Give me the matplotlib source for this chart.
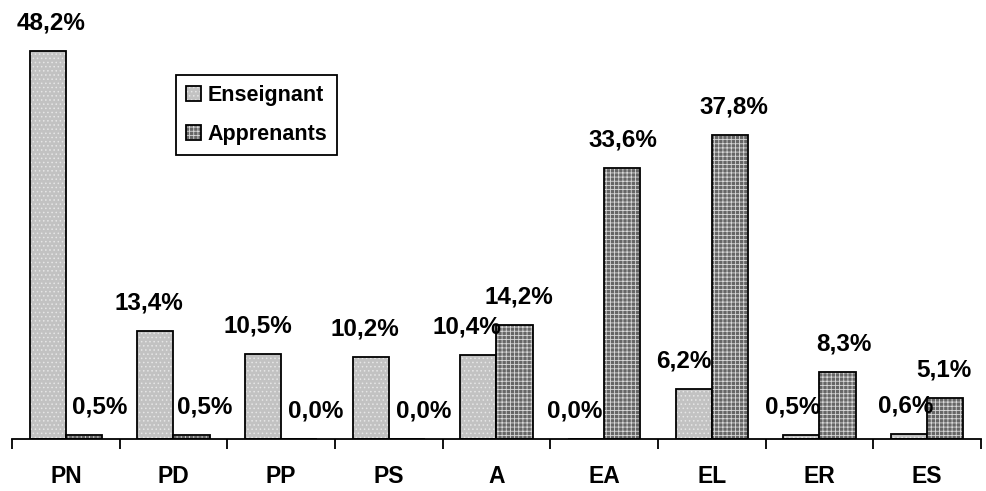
import matplotlib.pyplot as plt
import numpy as np

plt.rcParams["font.family"] = ["Liberation Sans", "DejaVu Sans"]
plt.rcParams["hatch.linewidth"] = 0.6

categories = ["PN", "PD", "PP", "PS", "A", "EA", "EL", "ER", "ES"]
enseignant = [48.2, 13.4, 10.5, 10.2, 10.4, 0.0, 6.2, 0.5, 0.6]
apprenants = [0.5, 0.5, 0.0, 0.0, 14.2, 33.6, 37.8, 8.3, 5.1]

# horizontal nudges (pixels) for the value labels
ens_dx = [3, -7, -5, -6, -12, -11, -10, -9, -3]
app_dx = [16, 13, 16, 17, 4, 1, 4, 6, -1]

fig = plt.figure(figsize=(9.86, 4.91), dpi=100)
ax = fig.add_axes([12 / 986, 52 / 491, 969 / 986, 434 / 491])

x = np.arange(len(categories))
w = 0.335
light = dict(facecolor="#c2c2c2", edgecolor="black", linewidth=1.3, hatch="....")
dark = dict(facecolor="#666666", edgecolor="black", linewidth=1.3, hatch="++++")

b1 = ax.bar(x - w / 2, enseignant, w, label="Enseignant", **light)
b2 = ax.bar(x + w / 2, apprenants, w, label="Apprenants", **dark)
for b in b1:
    b._hatch_color = (0.9, 0.9, 0.9, 1.0)
for b in b2:
    b._hatch_color = (0.85, 0.85, 0.85, 1.0)

px = 72 / 100
for bars, vals, dxs in ((b1, enseignant, ens_dx), (b2, apprenants, app_dx)):
    for bar, v, dx in zip(bars, vals, dxs):
        ax.annotate(f"{v:.1f}%".replace(".", ","),
                    (bar.get_x() + bar.get_width() / 2, v),
                    xytext=(dx * px, 28 * px), textcoords="offset points",
                    ha="center", va="center", fontsize=17.5, fontweight="bold")

ax.set_xlim(-0.5, len(categories) - 0.5)
ax.set_ylim(0, 53.9)
ax.set_xticks(x)
ax.set_xticklabels(categories, fontsize=16.5, fontweight="bold")
ax.tick_params(axis="x", which="major", length=0, pad=19)
ax.set_xticks(np.arange(len(categories) + 1) - 0.5, minor=True)
ax.tick_params(axis="x", which="minor", length=7, width=1.3, direction="out")
ax.set_yticks([])
for side in ("left", "right", "top"):
    ax.spines[side].set_visible(False)
ax.spines["bottom"].set_linewidth(1.3)

leg = ax.legend(loc="upper left", bbox_to_anchor=(164 / 969, 1 - 70 / 434),
                frameon=True, fancybox=False, framealpha=1,
                prop={"size": 15.5, "weight": "bold"},
                handlelength=0.7, handleheight=0.7, handletextpad=0.3,
                labelspacing=0.85, borderpad=0.45, borderaxespad=0)
leg.get_frame().set_edgecolor("black")
leg.get_frame().set_linewidth(1.3)

fig.savefig("out.png", dpi=100)
